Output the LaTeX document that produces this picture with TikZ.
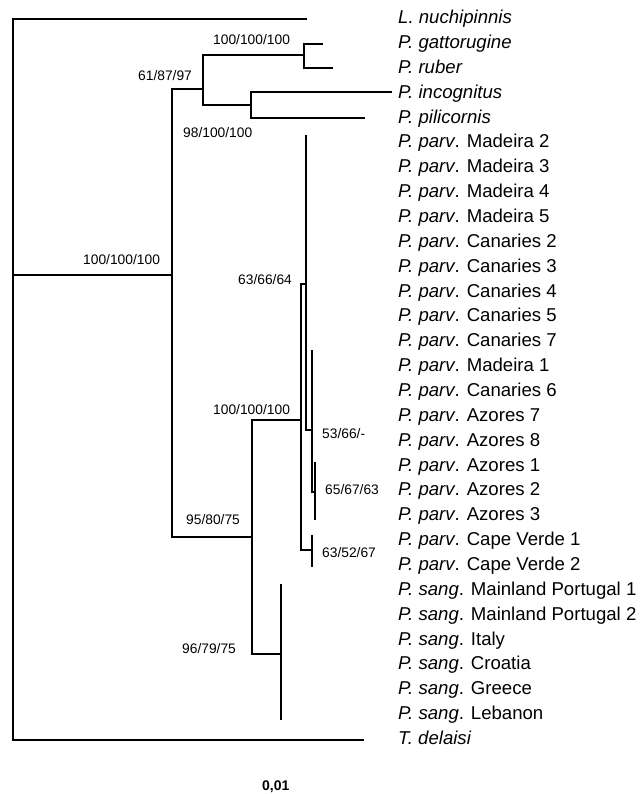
\documentclass[tikz,border=0pt]{standalone}
\usepackage{fontspec}
\setmainfont{Liberation Sans}
\usetikzlibrary{positioning}

\tikzset{
  branch/.style={line width=2pt, line join=miter},
  taxon/.style={anchor=base west, inner sep=0pt, font=\fontsize{18.6}{20}\selectfont},
  support/.style={anchor=base west, inner sep=0pt, font=\fontsize{13.8}{15}\selectfont},
}

\begin{document}
\begin{tikzpicture}[x=1pt,y=-1pt]
  \useasboundingbox (0,0) rectangle (641,794);

  % taxa
  \foreach \txt [count=\i from 0] in {
    {\textit{L. nuchipinnis}}, {\textit{P. gattorugine}}, {\textit{P. ruber}},
    {\textit{P. incognitus}}, {\textit{P. pilicornis}},
    {\textit{P. parv}. Madeira 2}, {\textit{P. parv}. Madeira 3},
    {\textit{P. parv}. Madeira 4}, {\textit{P. parv}. Madeira 5},
    {\textit{P. parv}. Canaries 2}, {\textit{P. parv}. Canaries 3},
    {\textit{P. parv}. Canaries 4}, {\textit{P. parv}. Canaries 5},
    {\textit{P. parv}. Canaries 7}, {\textit{P. parv}. Madeira 1},
    {\textit{P. parv}. Canaries 6}, {\textit{P. parv}. Azores 7},
    {\textit{P. parv}. Azores 8}, {\textit{P. parv}. Azores 1},
    {\textit{P. parv}. Azores 2}, {\textit{P. parv}. Azores 3},
    {\textit{P. parv}. Cape Verde 1}, {\textit{P. parv}. Cape Verde 2},
    {\textit{P. sang}. Mainland Portugal 1}, {\textit{P. sang}. Mainland Portugal 2},
    {\textit{P. sang}. Italy}, {\textit{P. sang}. Croatia},
    {\textit{P. sang}. Greece}, {\textit{P. sang}. Lebanon},
    {\textit{T. delaisi}}}
    \node[taxon] (sp\i) at (398, {23.6+24.86*\i}) {\txt};

  % inner nodes
  \coordinate (root) at (13,275);
  \coordinate (nA) at (172,275);
  \coordinate (nB) at (203,89);
  \coordinate (nGat) at (304,55);
  \coordinate (nInc) at (251,105);
  \coordinate (nC) at (252,537);
  \coordinate (nParv) at (301,420);
  \coordinate (nMad) at (306,284);
  \coordinate (nMix) at (312,430);
  \coordinate (nAzo) at (315,492);
  \coordinate (nCape) at (312,550);
  \coordinate (nSang) at (281,654);

  % branch ends
  \coordinate (eLnu) at (307,19);
  \coordinate (eGat) at (323,44);
  \coordinate (eRub) at (333,68);
  \coordinate (eInc) at (392,92);
  \coordinate (ePil) at (365,118);
  \coordinate (eMadTop) at (306,135);
  \coordinate (eMixTop) at (312,350);
  \coordinate (eAzoTop) at (315,462);
  \coordinate (eAzoBot) at (315,520);
  \coordinate (eCapeTop) at (312,535);
  \coordinate (eCapeBot) at (312,567);
  \coordinate (eSangTop) at (281,584);
  \coordinate (eSangBot) at (281,720);
  \coordinate (eTde) at (364,740);

  \draw[branch] (eLnu) -| (root) |- (eTde);
  \draw[branch] (root) -- (nA);
  \draw[branch] (nB) -| (nA) |- (nC);
  \draw[branch] (nGat) -| (nB) |- (nInc);
  \draw[branch] (eGat) -| (nGat) |- (eRub);
  \draw[branch] (eInc) -| (nInc) |- (ePil);
  \draw[branch] (nParv) -| (nC) |- (nSang);
  \draw[branch] (nMad) -| (nParv) |- (nCape);
  \draw[branch] (eMadTop) -- (nMad) |- (nMix);
  \draw[branch] (eMixTop) -- (nMix) |- (nAzo);
  \draw[branch] (eAzoTop) -- (eAzoBot);
  \draw[branch] (eCapeTop) -- (eCapeBot);
  \draw[branch] (eSangTop) -- (eSangBot);

  % support values
  \node[support] (s1) at (213,45) {100/100/100};
  \node[support] (s2) at (138,81) {61/87/97};
  \node[support] (s3) at (183,138) {98/100/100};
  \node[support] (s4) at (83,264) {100/100/100};
  \node[support] (s5) at (238,284) {63/66/64};
  \node[support] (s6) at (213,414) {100/100/100};
  \node[support] (s7) at (322,438) {53/66/-};
  \node[support] (s8) at (325,494) {65/67/63};
  \node[support] (s9) at (186,524) {95/80/75};
  \node[support] (s10) at (322,557) {63/52/67};
  \node[support] (s11) at (182,653) {96/79/75};

  \node[support, font=\fontsize{14}{15}\selectfont\bfseries] (scale) at (262,790) {0,01};
\end{tikzpicture}
\end{document}
